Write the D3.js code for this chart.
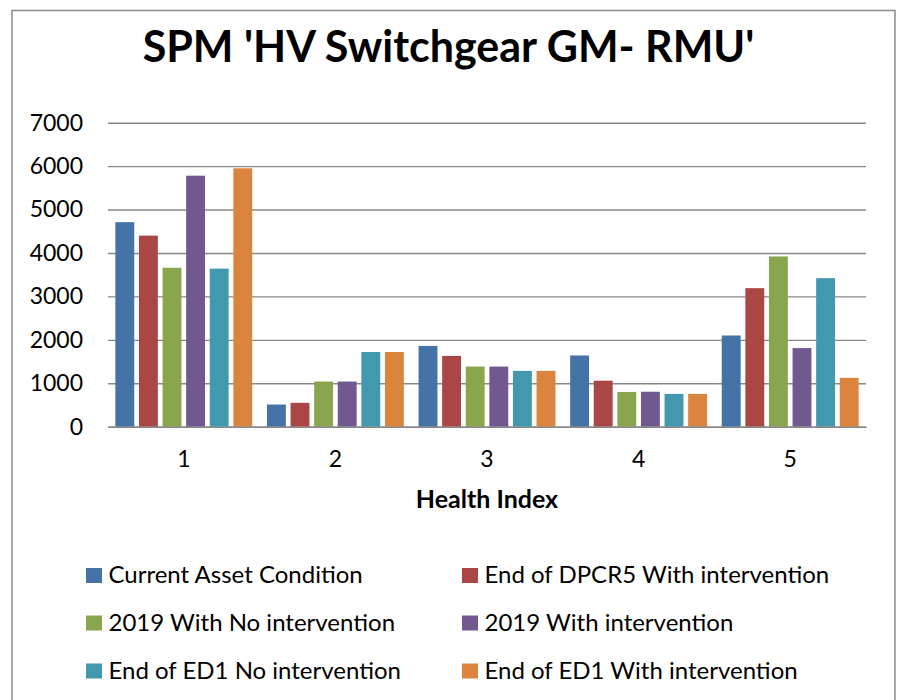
<!DOCTYPE html>
<html>
<head>
<meta charset="utf-8">
<script src="https://cdn.jsdelivr.net/npm/d3@7"></script>
<style>
  body { margin: 0; background: #fff; }
  svg { display: block; font-family: Lato, "Open Sans", sans-serif; }
</style>
</head>
<body>
<svg id="chart" width="899" height="700"></svg>
<script>
// Chart data
var categories = ["1", "2", "3", "4", "5"];
var seriesNames = [
    "Current Asset Condition",
    "End of DPCR5 With intervention",
    "2019 With No intervention",
    "2019 With intervention",
    "End of ED1 No intervention",
    "End of ED1 With intervention"
];
var currentCondition = [4710, 510, 1860, 1640, 2100];
var endDpcr5With = [4400, 550, 1630, 1060, 3190];
var y2019NoIntervention = [3660, 1040, 1385, 800, 3920];
var y2019WithIntervention = [5780, 1040, 1385, 805, 1810];
var endEd1No = [3640, 1720, 1285, 755, 3420];
var endEd1With = [5950, 1720, 1285, 755, 1125];
var yTicks = [0, 1000, 2000, 3000, 4000, 5000, 6000, 7000];

var seriesValues = [currentCondition, endDpcr5With, y2019NoIntervention,
    y2019WithIntervention, endEd1No, endEd1With];
var colors = ["#4572A7", "#AA4643", "#89A54E", "#71588F", "#4198AF", "#DB843D"];

(function () {
    var svg = d3.select("#chart"),
        // plot area bounds
        plotLeft = 108,
        plotRight = 866,
        plotTop = 122.7,
        plotBottom = 426.7,
        gridColor = "#888888";

    // outer frame
    svg.append("rect")
        .attr("x", 12)
        .attr("y", 10.5)
        .attr("width", 883)
        .attr("height", 720)
        .style("fill", "none")
        .style("stroke", "#8a8a8a")
        .style("stroke-width", 1.5);

    svg.append("text")
        .attr("x", 448.5)
        .attr("y", 62)
        .attr("text-anchor", "middle")
        .style("font-weight", "bold")
        .style("font-size", "43px")
        .text("SPM 'HV Switchgear GM- RMU'");

    var x0 = d3.scaleBand()
        .domain(categories)
        .range([plotLeft, plotRight])
        .paddingInner(0.066)
        .paddingOuter(0.033);

    var x1 = d3.scaleBand()
        .domain(d3.range(seriesNames.length))
        .range([0, x0.bandwidth()]);

    var y = d3.scaleLinear()
        .domain([0, 7000])
        .range([plotBottom, plotTop]);

    // gridlines + y labels
    var yAxis = svg.append("g")
        .attr("transform", "translate(" + plotLeft + ",0)")
        .call(d3.axisLeft(y).tickValues(yTicks).tickSize(-(plotRight - plotLeft)).tickPadding(25).tickFormat(d3.format("d")));
    yAxis.select(".domain").remove();
    yAxis.selectAll(".tick line")
        .style("stroke", gridColor)
        .style("stroke-width", 1.4);
    yAxis.selectAll(".tick text")
        .style("font-family", "Lato, sans-serif")
        .style("font-size", "23px")
        .style("fill", "#000");

    // bars
    var barInset = x1.bandwidth() * 0.1;
    seriesValues.forEach(function (vals, s) {
        svg.append("g")
            .selectAll("rect")
            .data(vals)
            .enter()
            .append("rect")
            .attr("x", function (d, i) { return x0(categories[i]) + x1(s) + barInset; })
            .attr("y", function (d) { return y(d); })
            .attr("width", x1.bandwidth() - 2 * barInset)
            .attr("height", function (d) { return y(0) - y(d); })
            .style("fill", colors[s]);
    });

    // x axis line and labels
    var xAxis = svg.append("g")
        .attr("transform", "translate(0," + plotBottom + ")")
        .call(d3.axisBottom(x0).tickSize(0).tickPadding(24));
    xAxis.select(".domain")
        .style("stroke", gridColor)
        .style("stroke-width", 1.6);
    xAxis.selectAll(".tick text")
        .style("font-family", "Lato, sans-serif")
        .style("font-size", "23px")
        .style("fill", "#000");

    svg.append("text")
        .attr("x", (plotLeft + plotRight) / 2)
        .attr("y", 508)
        .attr("text-anchor", "middle")
        .style("font-weight", "bold")
        .style("font-size", "25px")
        .text("Health Index");

    // legend, two columns
    var legend = svg.append("g");
    var legendCols = [86, 462],
        legendRows = [575.5, 623, 671];
    seriesNames.forEach(function (name, i) {
        var lx = legendCols[i % 2],
            ly = legendRows[Math.floor(i / 2)];
        legend.append("rect")
            .attr("x", lx)
            .attr("y", ly - 7.5)
            .attr("width", 16)
            .attr("height", 15)
            .style("fill", colors[i]);
        legend.append("text")
            .attr("x", lx + 22.5)
            .attr("y", ly + 7.5)
            .style("font-size", "24px")
            .text(name);
    });
})();
</script>
</body>
</html>
